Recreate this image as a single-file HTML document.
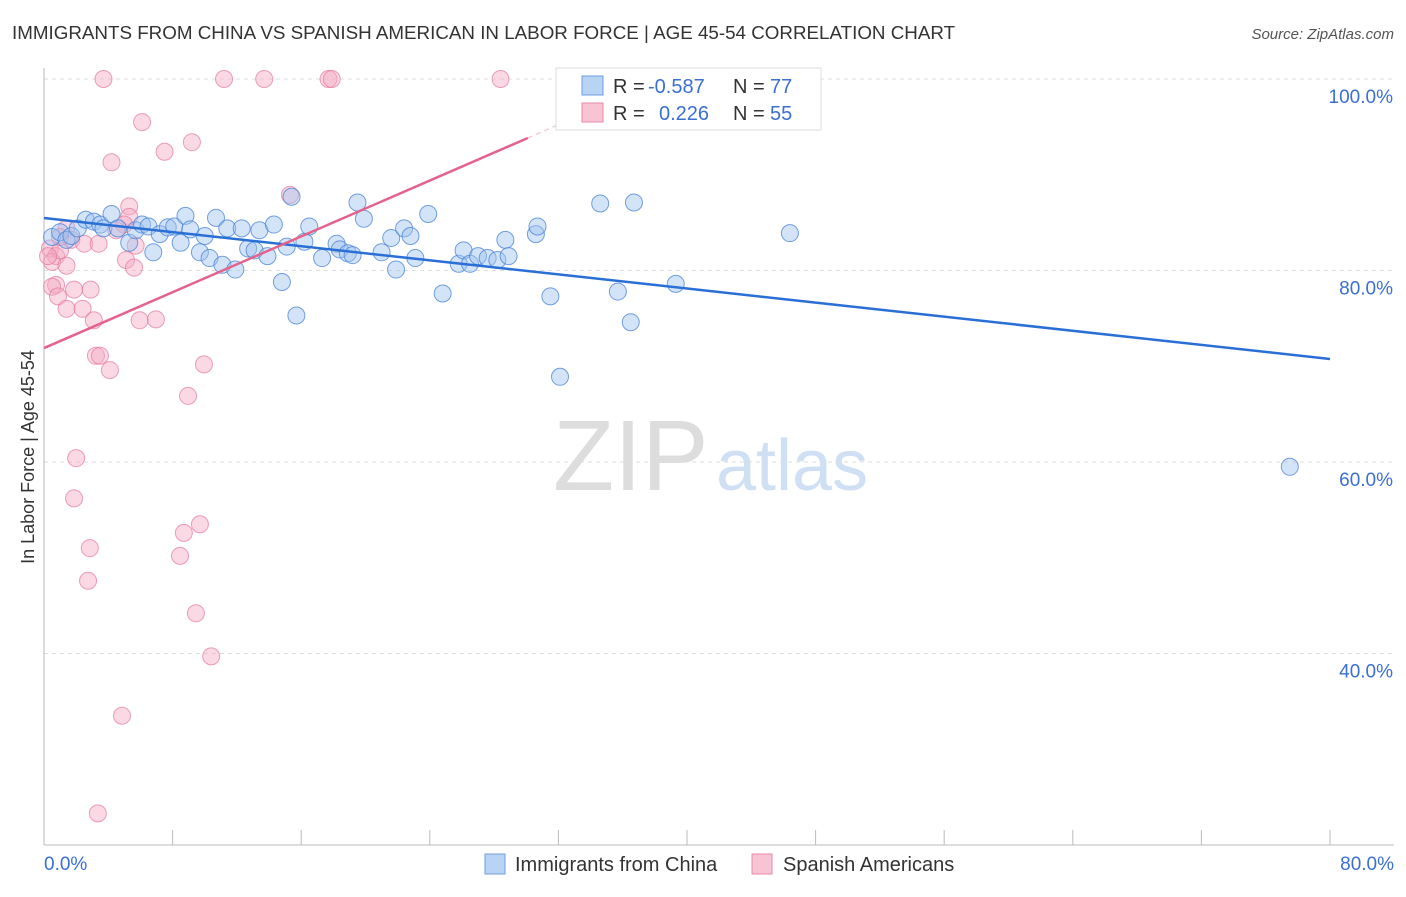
<!DOCTYPE html>
<html><head><meta charset="utf-8"><style>
body{margin:0;background:#fff;font-family:"Liberation Sans",sans-serif}
svg text{font-family:"Liberation Sans",sans-serif}
</style></head><body>
<svg id="c" width="1406" height="892" viewBox="0 0 1406 892" xmlns="http://www.w3.org/2000/svg">
<text x="12" y="39" font-size="18.8" fill="#333">IMMIGRANTS FROM CHINA VS SPANISH AMERICAN IN LABOR FORCE | AGE 45-54 CORRELATION CHART</text>
<text x="1394" y="39" font-size="15" fill="#555" font-style="italic" text-anchor="end">Source: ZipAtlas.com</text>
<text x="553" y="490" font-size="100" fill="#ddd" font-family="Liberation Serif, serif">ZIP</text>
<text x="716" y="490" font-size="72" fill="#cfe0f5">atlas</text>
<text transform="translate(34,457) rotate(-90)" font-size="18" fill="#333" text-anchor="middle">In Labor Force | Age 45-54</text>
<g id="grid"></g><g id="pts"></g><g id="lines"></g>
<g>
<rect x="556" y="68" width="265" height="62" fill="#fff" stroke="#ddd"/>
<rect x="582" y="76" width="21" height="19" fill="#b9d3f5" stroke="#6e9ee0"/>
<rect x="582" y="103" width="21" height="19" fill="#f8c4d4" stroke="#e88aa6"/>
<text x="613" y="93" font-size="20" fill="#333">R =</text>
<text x="648" y="93" font-size="20" fill="#3b6fd1">-0.587</text>
<text x="733" y="93" font-size="20" fill="#333">N =</text>
<text x="770" y="93" font-size="20" fill="#3b6fd1">77</text>
<text x="613" y="120" font-size="20" fill="#333">R =</text>
<text x="659" y="120" font-size="20" fill="#3b6fd1">0.226</text>
<text x="733" y="120" font-size="20" fill="#333">N =</text>
<text x="770" y="120" font-size="20" fill="#3b6fd1">55</text>
</g>
<g>
<rect x="485" y="854" width="20" height="20" fill="#b9d3f5" stroke="#6e9ee0"/>
<text x="515" y="871" font-size="20" fill="#333">Immigrants from China</text>
<rect x="752" y="854" width="20" height="20" fill="#f8c4d4" stroke="#e88aa6"/>
<text x="783" y="871" font-size="20" fill="#333">Spanish Americans</text>
</g>
<text x="44" y="870" font-size="19" fill="#3b6fd1">0.0%</text>
<text x="1394" y="870" font-size="19" fill="#3b6fd1" text-anchor="end">80.0%</text>
</svg>
<script>
const yTicks=[100,80,60,40];
const xTicks=[0,8,16,24,32,40,48,56,64,72,80];
const blueX=[0.5,1,1.4,1.7,2.1,2.6,3.1,3.5,3.7,4.2,4.6,5.3,5.7,6.1,6.5,6.8,7.2,7.7,8.1,8.5,8.8,9.1,9.7,10,10.3,10.7,11.1,11.4,11.9,12.3,12.7,13.1,13.4,13.9,14.3,14.8,15.1,15.4,15.7,16.2,16.5,17.3,18.2,18.4,18.9,19.2,19.5,19.9,21,21.6,21.9,22.4,22.8,23.1,23.9,24.8,25.8,26.1,26.5,27,27.6,28.2,28.7,28.9,30.6,30.7,31.5,32.1,34.6,35.7,36.5,36.7,39.3,46.4,77.5];
const blueY=[83.5,84,83.2,83.6,84.4,85.3,85.1,84.8,84.4,85.9,84.4,82.9,84.2,84.8,84.6,81.9,83.8,84.5,84.6,82.9,85.7,84.3,81.9,83.6,81.3,85.5,80.6,84.4,80.1,84.4,82.3,82.1,84.2,81.5,84.8,78.8,82.5,87.7,75.3,83,84.6,81.3,82.8,82.2,81.8,81.6,87.1,85.4,81.9,83.4,80.1,84.4,83.6,81.3,85.9,77.6,80.7,82.1,80.7,81.5,81.3,81.1,83.2,81.5,83.8,84.6,77.3,68.9,87,77.8,74.6,87.1,78.6,83.9,59.5];
const pinkX=[3.7,11.2,13.7,17.7,17.9,28.4,6.1,9.2,7.5,4.2,15.3,5.3,5.3,4.98,4.5,1.4,1.7,2.5,3.4,5.7,0.37,0.75,0.5,1.4,5.1,5.6,0.75,0.5,1.87,2.9,0.87,1.4,2.4,3.1,5.95,6.96,3.23,3.48,4.1,9.95,8.96,2,1.87,9.7,8.7,2.85,8.46,2.74,9.45,10.4,4.85,3.35,1,0.25,1];
const pinkY=[100,100,100,100,100,100,95.5,93.4,92.4,91.3,87.9,86.7,85.6,84.8,84.2,84.4,83.2,82.8,82.8,82.6,82.3,81.5,80.9,80.5,81.1,80.3,78.5,78.3,78,78,77.3,76,76,74.8,74.8,74.9,71.1,71.1,69.6,70.2,66.9,60.4,56.2,53.5,52.6,51,50.2,47.6,44.2,39.7,33.5,23.3,82.1,81.5,83.5];
const blueTrend=[85.48,70.76];
const pinkTrend=[71.9,93.84];
const pinkTrendEnd=30.1;
const NS='http://www.w3.org/2000/svg';
const X=v=>44+v/80*1286, Y=v=>79+(100-v)/80*766;
function mk(t,a,p){const e=document.createElementNS(NS,t);for(const k in a)e.setAttribute(k,a[k]);p.appendChild(e);return e;}
const g=document.getElementById('grid');
yTicks.forEach(t=>{
 const l=mk('line',{x1:44,x2:1394,y1:Y(t),y2:Y(t),stroke:'#ddd','stroke-dasharray':'4,4'},g);
 
 
 const tx=mk('text',{x:1393,y:Y(t)+24,'font-size':19,fill:'#3b6fd1','text-anchor':'end'},g);
 tx.textContent=t.toFixed(1)+'%';
 
 
});
const ax=mk('line',{x1:44,x2:44,y1:68,y2:845,stroke:'#bbb'},g);


const bx=mk('line',{x1:44,x2:1394,y1:845,y2:845,stroke:'#bbb'},g);


xTicks.forEach(t=>{
 const l=mk('line',{x1:X(t),x2:X(t),y1:830,y2:845,stroke:'#bbb'},g);
 
 
});
const p=document.getElementById('pts');
pinkX.forEach((v,i)=>{
 const c=mk('circle',{cx:X(v),cy:Y(pinkY[i]),r:8.5,fill:'rgba(244,170,195,0.45)',stroke:'rgba(230,120,155,0.7)','stroke-width':1},p);
 
 
});
blueX.forEach((v,i)=>{
 const c=mk('circle',{cx:X(v),cy:Y(blueY[i]),r:8.5,fill:'rgba(160,196,240,0.45)',stroke:'rgba(70,130,215,0.75)','stroke-width':1},p);
 
 
});
const L=document.getElementById('lines');
const bl=mk('line',{x1:X(0),y1:Y(blueTrend[0]),x2:X(80),y2:Y(blueTrend[1]),stroke:'#2a6fd6','stroke-width':2.5},L);


const pl=mk('line',{x1:X(0),y1:Y(pinkTrend[0]),x2:X(pinkTrendEnd),y2:Y(pinkTrend[1]),stroke:'#e4628c','stroke-width':2.5},L);


const slope=(pinkTrend[1]-pinkTrend[0])/pinkTrendEnd;
const pd=mk('line',{x1:X(pinkTrendEnd),y1:Y(pinkTrend[1]),x2:X(36),y2:Y(pinkTrend[0]+slope*36),stroke:'#f5c0d0','stroke-width':1.2,'stroke-dasharray':'5,4'},L);


</script>
</body></html>
